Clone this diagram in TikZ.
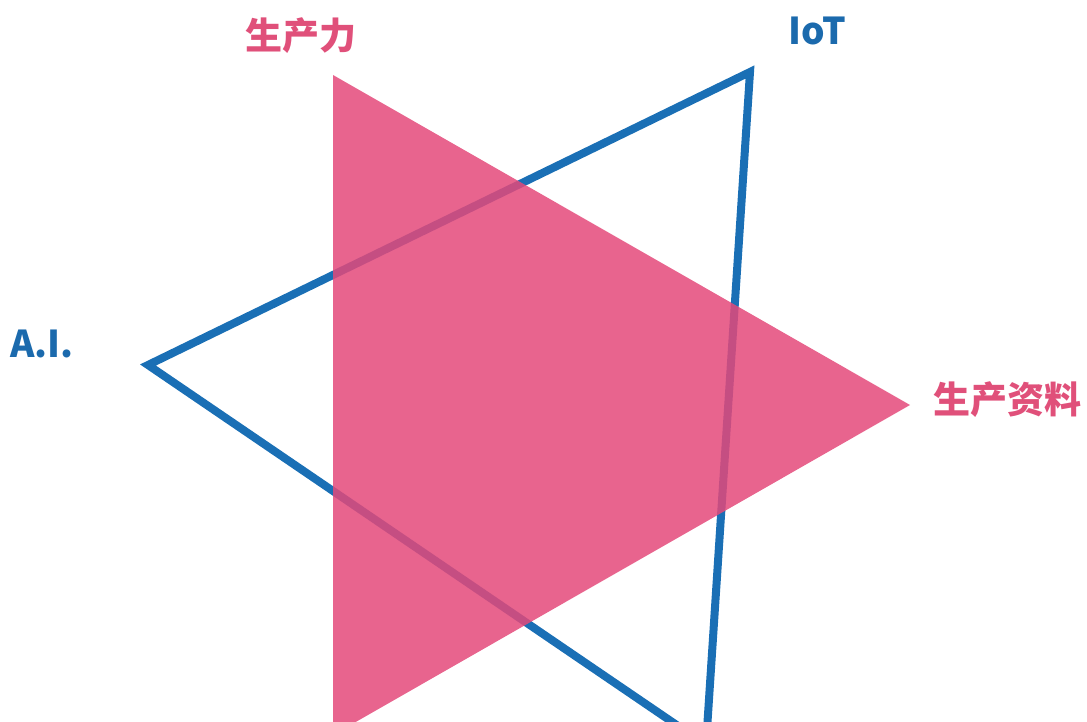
\documentclass[tikz,border=0pt]{standalone}
\usepackage{fontspec}
\newfontfamily\cjk{Noto Sans CJK SC}
\definecolor{pinkf}{HTML}{E4497A}
\definecolor{bluel}{HTML}{1A6FB5}
\definecolor{pinkt}{HTML}{E0507A}
\definecolor{bluet}{HTML}{1B6AAD}
\begin{document}
\begin{tikzpicture}[x=1pt,y=-1pt,
  lbl/.style={font=\cjk\bfseries\fontsize{37}{37}\selectfont, inner sep=0pt},
  outline/.style={draw=bluel, line width=8pt, line join=miter},
  solid tri/.style={fill=pinkf, fill opacity=0.85}]
\useasboundingbox (0,0) rectangle (1087,722);
\clip (0,0) rectangle (1087,722);
\coordinate (ai) at (148,365);
\coordinate (iot) at (750,72);
\coordinate (bb) at (706,745);
\coordinate (pt) at (333,75);
\coordinate (pr) at (910,405);
\coordinate (pb) at (333,735);
\path[outline] (ai) -- (iot) -- (bb) -- cycle;
\path[solid tri] (pt) -- (pr) -- (pb) -- cycle;
\node[lbl, text=pinkt] (lp) at (301,36) {生产力};
\node[lbl, text=bluet] (liot) at (817,31) {IoT};
\node[lbl, text=bluet] (lai) at (42,344) {A.I.};
\node[lbl, text=pinkt] (lpr) at (1007,400) {生产资料};
\end{tikzpicture}
\end{document}
